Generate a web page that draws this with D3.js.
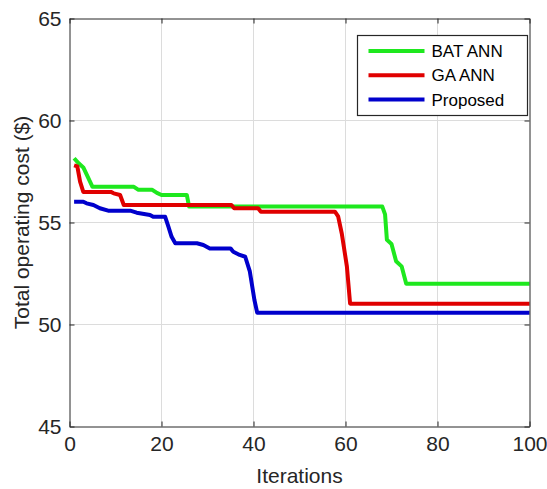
<!DOCTYPE html>
<html>
<head>
<meta charset="utf-8">
<script src="https://cdn.jsdelivr.net/npm/d3@7"></script>
<style>
  body { margin: 0; background: #fff; }
  svg { font-family: "Liberation Sans", Arial, sans-serif; }
</style>
</head>
<body>
<div id="chart"></div>
<script>
// series as [iteration, cost] corner points
const batAnn = [[1,58.15],[2,57.9],[3,57.7],[5,56.75],[14,56.75],[15,56.6],[18,56.6],[19,56.45],[20,56.35],
  [25.5,56.35],[26,55.78],[68,55.78],[68.6,55.4],[69,54.15],[70,53.95],[71,53.1],[72.2,52.85],[73.2,52.0],[100,52.0]];
const gaAnn = [[1,57.8],[1.7,57.75],[2.3,57.0],[3,56.5],[9,56.5],[9.6,56.43],[11,56.35],[11.8,55.86],[35.2,55.86],
  [35.8,55.7],[41,55.7],[41.6,55.53],[57.7,55.53],[58.4,55.3],[59.2,54.45],[60.3,52.85],[61,51.02],[100,51.02]];
const proposed = [[1,56.02],[3,56.02],[3.7,55.94],[5.2,55.86],[6.6,55.7],[8.4,55.58],[13.2,55.58],[14.6,55.48],
  [17.5,55.37],[18.2,55.28],[20.8,55.28],[21.5,54.8],[22.2,54.3],[23,53.98],[27.7,53.98],[29.1,53.9],[30.5,53.73],
  [35,53.73],[35.6,53.57],[37,53.41],[38.2,53.32],[39.2,52.6],[40.2,51.2],[40.8,50.58],[100,50.58]];

const seriesNames = ["BAT ANN", "GA ANN", "Proposed"];
const seriesColors = ["#1ee81e", "#e00000", "#0000cc"];
const xTicks = [0, 20, 40, 60, 80, 100];
const yTicks = [45, 50, 55, 60, 65];

const width = 547, height = 489;
const margin = {top: 18.5, right: 17.5, bottom: 62.5, left: 69.5};

const svg = d3.select("#chart").append("svg")
    .attr("width", width)
    .attr("height", height);

const x = d3.scaleLinear().domain([0, 100]).range([margin.left, width - margin.right]);
const y = d3.scaleLinear().domain([45, 65]).range([height - margin.bottom, margin.top]);

// grid
svg.append("g")
  .selectAll("line.gx")
  .data(xTicks.slice(1, -1))
  .join("line")
    .attr("x1", d => x(d)).attr("x2", d => x(d))
    .attr("y1", y(45)).attr("y2", y(65))
    .attr("stroke", "#dcdcdc").attr("stroke-width", 1);
svg.append("g")
  .selectAll("line.gy")
  .data(yTicks.slice(1, -1))
  .join("line")
    .attr("x1", x(0)).attr("x2", x(100))
    .attr("y1", d => y(d)).attr("y2", d => y(d))
    .attr("stroke", "#dcdcdc").attr("stroke-width", 1);

// lines
const line = d3.line().x(d => x(d[0])).y(d => y(d[1]));
[batAnn, gaAnn, proposed].forEach((s, i) => {
  svg.append("path")
    .datum(s)
    .attr("fill", "none")
    .attr("stroke", seriesColors[i])
    .attr("stroke-width", 4)
    .attr("stroke-linejoin", "round")
    .attr("d", line);
});

// axes (MATLAB style: inward ticks, full box)
const axisColor = "#262626";
const bottomAxis = svg.append("g")
    .attr("transform", `translate(0,${y(45)})`)
    .call(d3.axisBottom(x).tickValues(xTicks).tickSizeInner(-5).tickSizeOuter(0).tickPadding(10));
const leftAxis = svg.append("g")
    .attr("transform", `translate(${x(0)},0)`)
    .call(d3.axisLeft(y).tickValues(yTicks).tickSizeInner(-5).tickSizeOuter(0).tickPadding(8));
const topAxis = svg.append("g")
    .attr("transform", `translate(0,${y(65)})`)
    .call(d3.axisTop(x).tickValues(xTicks).tickSizeInner(-5).tickSizeOuter(0).tickFormat(""));
const rightAxis = svg.append("g")
    .attr("transform", `translate(${x(100)},0)`)
    .call(d3.axisRight(y).tickValues(yTicks).tickSizeInner(-5).tickSizeOuter(0).tickFormat(""));

[bottomAxis, leftAxis, topAxis, rightAxis].forEach(g => {
  g.selectAll("path, line").attr("stroke", axisColor);
  g.selectAll("text").attr("fill", "#262626").style("font-size", "21px");
});

// axis labels
svg.append("text")
    .attr("x", (x(0) + x(100)) / 2)
    .attr("y", 483)
    .attr("text-anchor", "middle")
    .attr("fill", "#262626")
    .style("font-size", "21px")
    .text("Iterations");
svg.append("text")
    .attr("transform", `translate(29,${(y(45) + y(65)) / 2}) rotate(-90)`)
    .attr("text-anchor", "middle")
    .attr("fill", "#262626")
    .style("font-size", "21px")
    .text("Total operating cost ($)");

// legend
const legend = svg.append("g").attr("transform", "translate(357.5,35.5)");
legend.append("rect")
    .attr("width", 170).attr("height", 80)
    .attr("fill", "#fff")
    .attr("stroke", axisColor).attr("stroke-width", 1.2);
seriesNames.forEach((name, i) => {
  const row = legend.append("g").attr("transform", `translate(0,${15.5 + i * 24.3})`);
  row.append("line")
    .attr("x1", 11).attr("x2", 67)
    .attr("stroke", seriesColors[i]).attr("stroke-width", 4);
  row.append("text")
    .attr("x", 74).attr("y", 6)
    .attr("fill", "#000")
    .style("font-size", "17px")
    .text(name);
});
</script>
</body>
</html>
